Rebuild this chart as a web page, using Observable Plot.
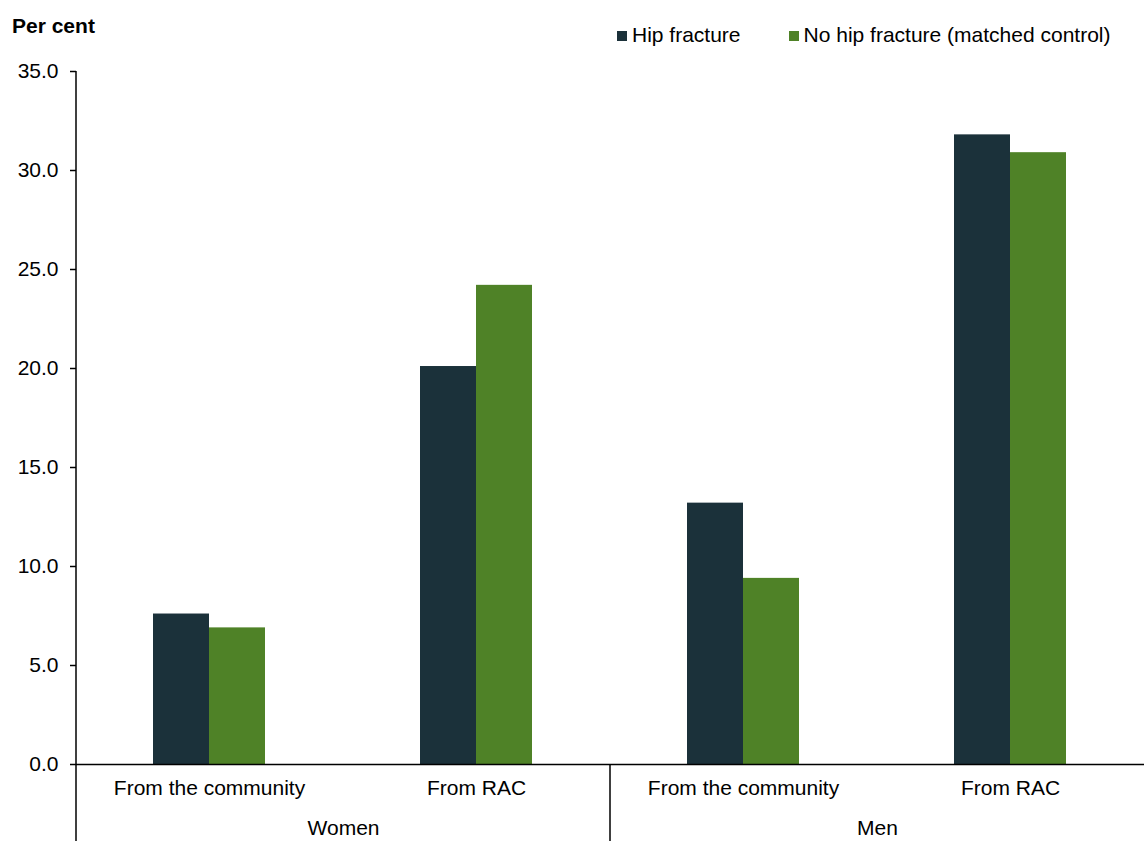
<!DOCTYPE html>
<html>
<head>
<meta charset="utf-8">
<script src="https://cdn.jsdelivr.net/npm/d3@7"></script>
<script src="https://cdn.jsdelivr.net/npm/@observablehq/plot@0.6"></script>
<style>
  body { margin: 0; background: #fff; font-family: "Liberation Sans", Arial, sans-serif; }
  #wrap { position: relative; width: 1144px; height: 841px; }
  #ylabel { position: absolute; left: 12px; top: 15px; font-weight: bold; font-size: 21px; line-height: 1; color: #000; }
  #legend { position: absolute; left: 617px; top: 24px; font-size: 21px; line-height: 1; color: #000; display: flex; align-items: center; }
  .item { display: flex; align-items: center; margin-right: 48px; }
  .item:last-child { margin-right: 0; }
  .sw { width: 10px; height: 10px; margin-right: 5px; margin-top: 2px; }
  svg { position: absolute; left: 0; top: 0; }
</style>
</head>
<body>
<div id="wrap">
  <div id="ylabel">Per cent</div>
  <div id="legend"></div>
</div>
<script>
const groups = ["Women", "Men"];
const sources = ["From the community", "From RAC"];
const seriesNames = ["Hip fracture", "No hip fracture (matched control)"];
const seriesColors = ["#1b313a", "#4f8227"];
// order: Women-community, Women-RAC, Men-community, Men-RAC
const hipFracture = [7.6, 20.1, 13.2, 31.8];
const noHipFracture = [6.9, 24.2, 9.4, 30.9];
const yTicks = [0, 5, 10, 15, 20, 25, 30, 35];

const rows = [];
groups.forEach((g, gi) => sources.forEach((s, si) => {
  const i = gi * sources.length + si;
  rows.push({sex: g, source: s, series: seriesNames[0], value: hipFracture[i]});
  rows.push({sex: g, source: s, series: seriesNames[1], value: noHipFracture[i]});
}));

const half = 56;
const chart = Plot.plot({
  width: 1144,
  height: 841,
  marginTop: 71,
  marginBottom: 77,
  marginLeft: 75,
  marginRight: 0,
  style: {fontFamily: "Liberation Sans, Arial, sans-serif", fontSize: "21px", color: "#000", background: "transparent"},
  fx: {domain: groups, padding: 0, label: null},
  x: {domain: sources, paddingInner: 0.58, paddingOuter: 0.29, label: null},
  y: {domain: [0, 35], label: null},
  marks: [
    Plot.barY(rows.filter(d => d.series === seriesNames[0]), {fx: "sex", x: "source", y: "value", fill: seriesColors[0], insetRight: half, insetLeft: 0}),
    Plot.barY(rows.filter(d => d.series === seriesNames[1]), {fx: "sex", x: "source", y: "value", fill: seriesColors[1], insetLeft: half, insetRight: 0}),
    Plot.axisY({ticks: yTicks, tickFormat: d3.format(".1f"), tickSize: 6, tickPadding: 12, fontSize: 21, stroke: "#000", strokeWidth: 1.5, label: null, facetAnchor: "left"}),
    Plot.axisX({tickSize: 0, tickPadding: 16, fontSize: 21, label: null}),
    Plot.axisFx({anchor: "bottom", tickSize: 0, tickPadding: 56, fontSize: 21, label: null}),
    Plot.ruleY([0], {stroke: "#000", strokeWidth: 1.5})
  ]
});

document.getElementById("wrap").appendChild(chart);

// axis line and group separator, positioned with the chart's scales
const svg = d3.select(chart);
const fx = chart.scale("fx");
const y = chart.scale("y");
const bottom = 841;
svg.append("line")
  .attr("x1", fx.apply("Women")).attr("x2", fx.apply("Women"))
  .attr("y1", y.apply(35)).attr("y2", bottom)
  .attr("stroke", "#000").attr("stroke-width", 1.5);
svg.append("line")
  .attr("x1", fx.apply("Men")).attr("x2", fx.apply("Men"))
  .attr("y1", y.apply(0)).attr("y2", bottom)
  .attr("stroke", "#000").attr("stroke-width", 1.5);

const legend = document.getElementById("legend");
seriesNames.forEach((n, i) => {
  const it = document.createElement("div");
  it.className = "item";
  it.innerHTML = `<span class="sw" style="background:${seriesColors[i]}"></span><span>${n}</span>`;
  legend.appendChild(it);
});
</script>
</body>
</html>
